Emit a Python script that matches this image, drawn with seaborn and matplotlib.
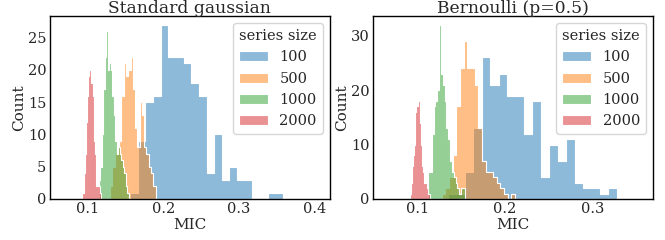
import numpy as np
import pandas as pd
import seaborn as sns
import matplotlib
matplotlib.use("Agg")
from matplotlib import pyplot as plt

sizes = ["100", "500", "1000", "2000"]
colors = sns.color_palette("tab10", 4)

# standard gaussian: (lo, hi) range of each series and its 20 bin counts
gauss_range = {"100": (0.156, 0.358), "500": (0.1295, 0.1897),
               "1000": (0.1145, 0.1541), "2000": (0.0921, 0.1172)}
gauss_100 = [1, 9, 15, 16, 27, 22, 22, 21, 18, 16, 4, 10, 3, 5, 3, 3, 0, 0, 1, 1]
gauss_500 = [2, 5, 7, 8, 9, 16, 21, 19, 20, 22, 17, 11, 8, 15, 13, 8, 7, 5, 4, 2]
gauss_1000 = [3, 5, 10, 17, 22, 26, 20, 21, 20, 16, 13, 9, 7, 8, 7, 6, 5, 4, 2, 1]
gauss_2000 = [6, 1, 4, 7, 8, 12, 16, 19, 24, 20, 18, 20, 16, 9, 7, 2, 2, 3, 2, 1]

# bernoulli p=0.5
bern_range = {"100": (0.135, 0.327), "500": (0.128, 0.211),
              "1000": (0.1125, 0.1542), "2000": (0.0917, 0.1144)}
bern_100 = [1, 1, 5, 13, 26, 21, 23, 19, 19, 12, 18, 4, 10, 7, 11, 3, 2, 2, 1, 2]
bern_500 = [1, 2, 4, 8, 17, 24, 29, 24, 24, 21, 13, 7, 5, 5, 4, 3, 2, 1, 0, 1]
bern_1000 = [5, 5, 12, 17, 18, 20, 32, 23, 21, 18, 13, 11, 7, 5, 4, 3, 2, 1, 2, 2]
bern_2000 = [1, 3, 6, 8, 10, 16, 20, 17, 21, 18, 14, 10, 6, 5, 3, 5, 3, 2, 1, 1]

panels = [("Standard gaussian", gauss_range, [gauss_100, gauss_500, gauss_1000, gauss_2000], (0.05, 0.42)),
          ("Bernoulli (p=0.5)", bern_range, [bern_100, bern_500, bern_1000, bern_2000], (0.05, 0.368))]

sns.set_style("white")
plt.rcParams["font.family"] = ["DejaVu Serif"]

fig = plt.figure(figsize=(6.65, 2.4), dpi=100)
axs = [fig.add_axes([0.075, 0.171, 0.421, 0.762]),
       fig.add_axes([0.561, 0.171, 0.421, 0.762])]

for ax, (title, rng, counts, xlim) in zip(axs, panels):
    for size, c, cnt in zip(sizes, colors, counts):
        lo, hi = rng[size]
        edges = np.linspace(lo, hi, 21)
        centers = (edges[:-1] + edges[1:]) / 2
        df = pd.DataFrame({"MIC": centers, "n": cnt})
        sns.histplot(data=df, x="MIC", weights="n", bins=20, binrange=(lo, hi),
                     element="step", color=c, alpha=0.5, edgecolor="white",
                     linewidth=0.8, label=size, ax=ax)
    ax.set_xlim(*xlim)
    ax.set_title(title, fontsize=12.3, pad=2)
    ax.set_xlabel("MIC", fontsize=11, labelpad=1)
    ax.set_ylabel("Count", fontsize=11, labelpad=1)
    ax.tick_params(labelsize=10.5, length=0, pad=2.5)
    for s in ax.spines.values():
        s.set_visible(True)
        s.set_color("black")
        s.set_linewidth(1)
    ax.legend(title="series size", fontsize=10.5, title_fontsize=10.5, loc="upper right")

fig.savefig("out.png", dpi=100)
